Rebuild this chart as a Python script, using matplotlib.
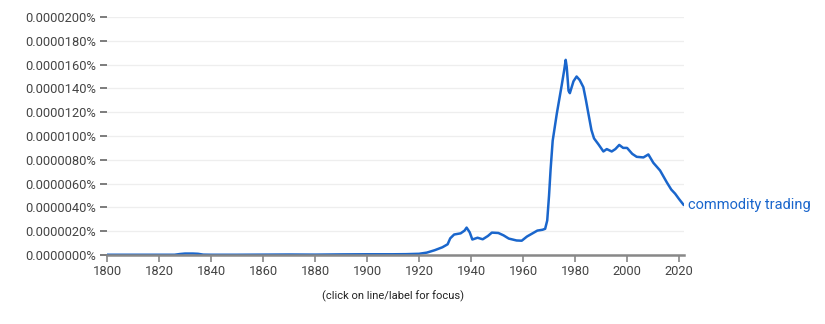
import matplotlib.pyplot as plt

# values in units of 0.0000010 percent
years = [1800, 1810, 1820, 1826, 1828, 1830, 1833, 1835, 1837, 1840, 1850, 1860, 1870, 1880,
         1890, 1900, 1910, 1915, 1920, 1923, 1926, 1929, 1931, 1932, 1933.5, 1936, 1937.5, 1938.3,
         1939.5, 1940.5, 1942.5, 1944.5, 1946.5, 1948, 1950.5, 1952.5, 1954.5, 1957.5, 1959.5,
         1961.5, 1963.5, 1965.5, 1967.5, 1968.5, 1969.3, 1970, 1970.6, 1971.4, 1973, 1974.9,
         1975.8, 1976.4, 1976.8, 1977.5, 1978, 1979.4, 1980.6, 1981.8, 1983.2, 1984.2, 1985.2,
         1986.3, 1987.3, 1989, 1990.9, 1992.2, 1994.1, 1995.5, 1997, 1998.5, 2000, 2002,
         2003.7, 2006.3, 2008.2, 2010.1, 2012.7, 2014, 2015.3, 2017, 2018.5, 2020, 2021.8]
values = [0.02, 0.02, 0.02, 0.02, 0.08, 0.12, 0.12, 0.1, 0.03, 0.02, 0.02, 0.03, 0.04, 0.03,
          0.05, 0.06, 0.06, 0.07, 0.1, 0.2, 0.4, 0.65, 0.9, 1.4, 1.72, 1.82, 2.05, 2.3,
          1.9, 1.3, 1.45, 1.32, 1.6, 1.88, 1.85, 1.65, 1.38, 1.22, 1.2,
          1.55, 1.8, 2.05, 2.12, 2.2, 2.9, 5.0, 7.2, 9.6, 11.9, 14.3,
          15.5, 16.4, 15.8, 13.8, 13.6, 14.6, 15.0, 14.7, 14.1, 13.0, 11.8,
          10.5, 9.8, 9.3, 8.7, 8.9, 8.7, 8.9, 9.25, 9.0, 9.0, 8.5,
          8.25, 8.2, 8.45, 7.75, 7.1, 6.6, 6.1, 5.5, 5.15, 4.7, 4.2]

label = "commodity trading"
yticks = [0, 2, 4, 6, 8, 10, 12, 14, 16, 18, 20]
xticks = [1800, 1820, 1840, 1860, 1880, 1900, 1920, 1940, 1960, 1980, 2000, 2020]

plt.rcParams['font.family'] = ['Roboto', 'DejaVu Sans']

fig = plt.figure(figsize=(8.25, 3.24), dpi=100)
ax = fig.add_axes([0.1297, 0.213, 0.8294 - 0.1297, 0.9475 - 0.213])

line_color = '#1a66cc'
ax.plot(years, values, color=line_color, linewidth=1.8,
        solid_joinstyle='round', solid_capstyle='round')

ax.set_xlim(1800, 2022)
ax.set_ylim(0, 20)
ax.set_yticks(yticks)
ax.set_yticklabels(['%.7f%%' % (t / 1e6) for t in yticks])
ax.set_xticks(xticks)

for spine in ['top', 'right', 'left']:
    ax.spines[spine].set_visible(False)
ax.spines['bottom'].set_color('#888888')
ax.spines['bottom'].set_linewidth(1.8)

ax.grid(axis='y', color='#eeeeee', linewidth=0.9)
ax.set_axisbelow(True)
ax.tick_params(axis='y', length=5, width=1.2, color='#666666', labelsize=9.3,
               labelcolor='#444444', pad=3)
ax.tick_params(axis='x', length=5, width=1.2, color='#888888', labelsize=9.3,
               labelcolor='#444444', pad=2)

ax.text(years[-1] + 1.5, values[-1], label, color=line_color, fontsize=10.5,
        va='center', ha='left', clip_on=False)

fig.text(0.4762, 0.086, '(click on line/label for focus)', ha='center', va='center',
         fontsize=8, color='#222222')

fig.savefig('out.png', dpi=100)
